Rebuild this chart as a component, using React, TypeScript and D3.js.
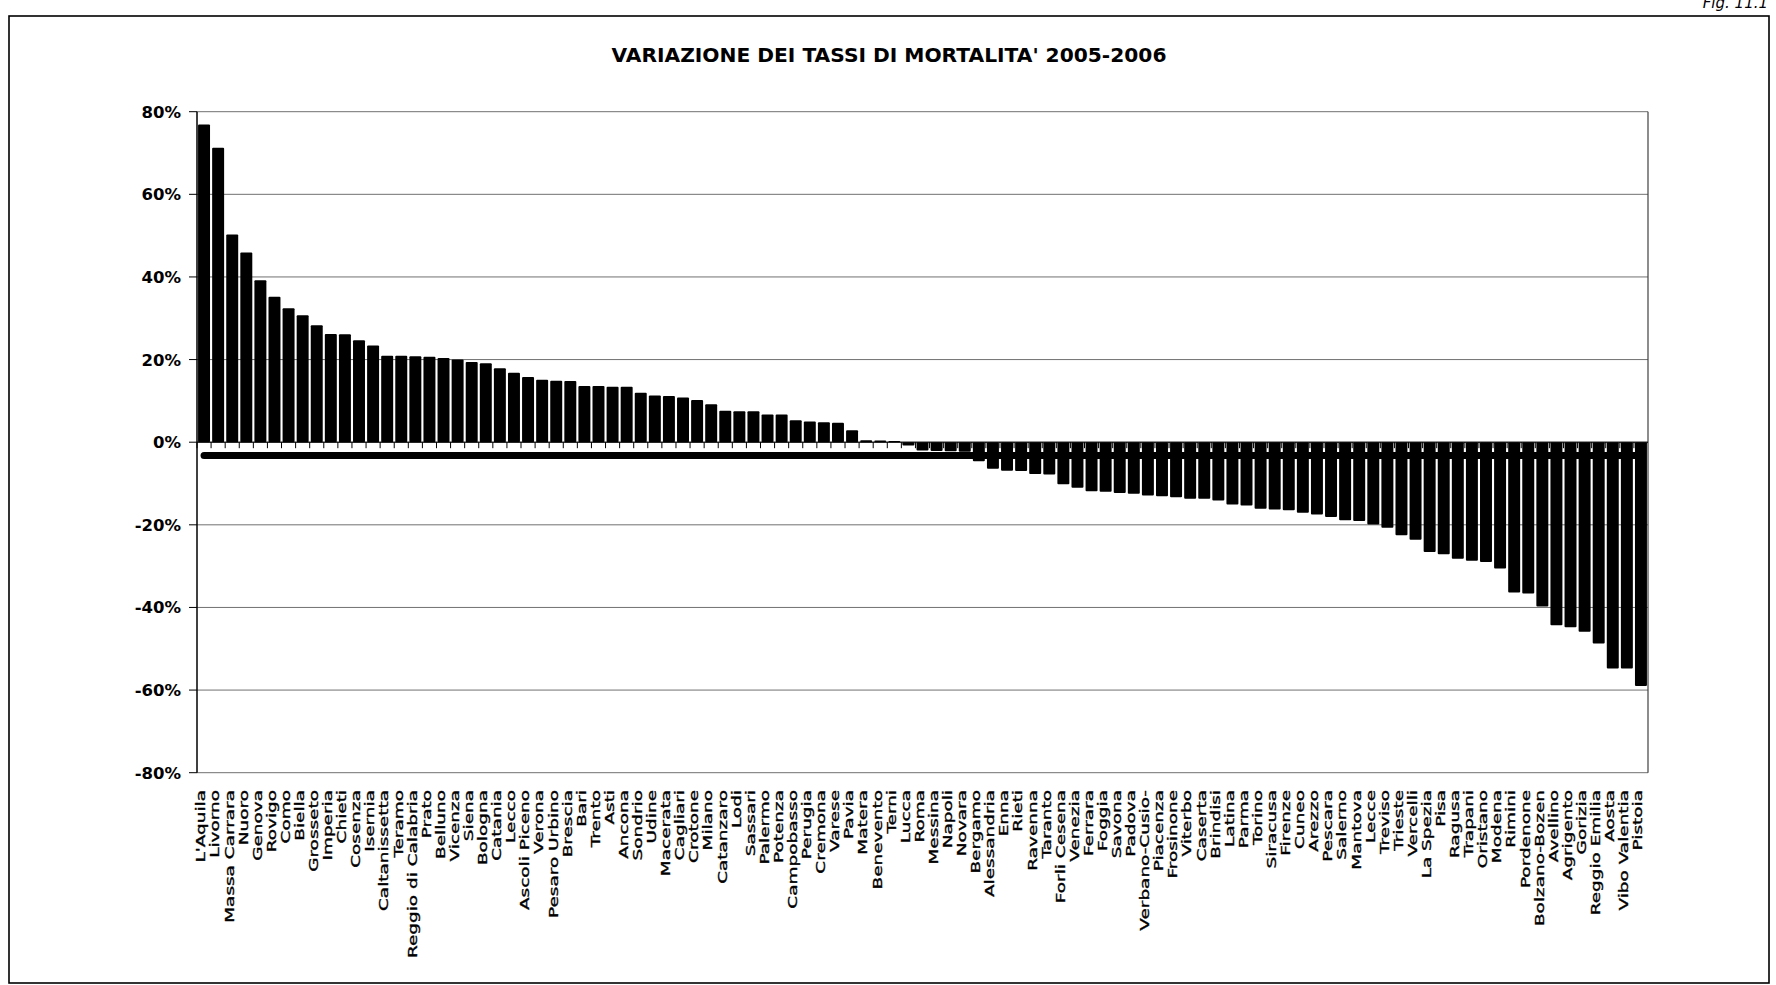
import React, { useEffect } from "react";
import * as d3 from "d3";

const categories = [
  "L'Aquila", "Livorno", "Massa Carrara", "Nuoro", "Genova", "Rovigo", "Como", "Biella", "Grosseto", "Imperia",
  "Chieti", "Cosenza", "Isernia", "Caltanissetta", "Teramo", "Reggio di Calabria", "Prato", "Belluno", "Vicenza", "Siena",
  "Bologna", "Catania", "Lecco", "Ascoli Piceno", "Verona", "Pesaro Urbino", "Brescia", "Bari", "Trento", "Asti",
  "Ancona", "Sondrio", "Udine", "Macerata", "Cagliari", "Crotone", "Milano", "Catanzaro", "Lodi", "Sassari",
  "Palermo", "Potenza", "Campobasso", "Perugia", "Cremona", "Varese", "Pavia", "Matera", "Benevento", "Terni",
  "Lucca", "Roma", "Messina", "Napoli", "Novara", "Bergamo", "Alessandria", "Enna", "Rieti", "Ravenna",
  "Taranto", "Forli Cesena", "Venezia", "Ferrara", "Foggia", "Savona", "Padova", "Verbano-Cusio-", "Piacenza", "Frosinone",
  "Viterbo", "Caserta", "Brindisi", "Latina", "Parma", "Torino", "Siracusa", "Firenze", "Cuneo", "Arezzo",
  "Pescara", "Salerno", "Mantova", "Lecce", "Treviso", "Trieste", "Vercelli", "La Spezia", "Pisa", "Ragusa",
  "Trapani", "Oristano", "Modena", "Rimini", "Pordenone", "Bolzano-Bozen", "Avellino", "Agrigento", "Gorizia", "Reggio Emilia",
  "Aosta", "Vibo Valentia", "Pistoia",
];

const values = [
  76.9, 71.3, 50.3, 45.9, 39.2, 35.2, 32.4, 30.7, 28.3, 26.2,
  26.1, 24.7, 23.4, 20.9, 20.9, 20.8, 20.7, 20.4, 20.0, 19.4,
  19.1, 17.9, 16.8, 15.8, 15.1, 14.9, 14.8, 13.6, 13.6, 13.4,
  13.4, 12.0, 11.3, 11.2, 10.8, 10.2, 9.2, 7.6, 7.5, 7.5,
  6.7, 6.7, 5.3, 5.0, 4.8, 4.7, 2.9, 0.5, 0.4, 0.3,
  -0.8, -2.0, -2.1, -2.2, -2.3, -4.6, -6.4, -6.9, -7.0, -7.7,
  -7.8, -10.2, -11.0, -11.9, -12.0, -12.3, -12.5, -12.9, -13.1, -13.3,
  -13.7, -13.7, -14.1, -15.1, -15.3, -16.1, -16.3, -16.5, -17.1, -17.5,
  -18.1, -18.9, -19.1, -19.9, -20.7, -22.5, -23.6, -26.6, -27.1, -28.2,
  -28.7, -29.0, -30.6, -36.4, -36.6, -39.8, -44.3, -44.8, -45.9, -48.7,
  -54.8, -54.8, -59.0,
];

const referenceLine = -3.2;
const yTicks = [80, 60, 40, 20, 0, -20, -40, -60, -80];
const title = "VARIAZIONE DEI TASSI DI MORTALITA' 2005-2006";
const figLabel = "Fig. 11.1";

export default function App() {
  useEffect(() => {
    document.body.style.margin = "0";
  }, []);

  const W = 1776;
  const H = 985;
  const left = 197;
  const right = 1648;
  const top = 111.7;
  const bottom = 772.7;

  const x = d3.scaleBand<string>().domain(categories).range([left, right]).paddingInner(0.15).paddingOuter(0.075);
  const y = d3.scaleLinear().domain([-80, 80]).range([bottom, top]);
  const step = x.step();
  const bw = x.bandwidth();

  const x0 = (x(categories[0]) as number) + bw / 2;
  const x1 = (x(categories[categories.length - 1]) as number) + bw / 2;

  const labelFont = "'DejaVu Sans', sans-serif";

  return (
    <svg width={W} height={H} style={{ position: "absolute", left: 0, top: 0, background: "#fff" }}>
      <rect x={0} y={0} width={W} height={H} fill="#fff" />
      <text x={1768} y={8} textAnchor="end" fontFamily={labelFont} fontStyle="italic" fontSize={15} fill="#000">{figLabel}</text>
      <rect x={9} y={16} width={1760} height={967} fill="none" stroke="#000" strokeWidth={1.6} />
      <text x={889} y={62} textAnchor="middle" fontFamily={labelFont} fontWeight="bold" fontSize={20}
        textLength={555} lengthAdjust="spacingAndGlyphs" fill="#000">{title}</text>

      {/* gridlines */}
      {yTicks.map((t) => (
        <line key={"g" + t} x1={left} x2={right} y1={y(t)} y2={y(t)} stroke="#707070" strokeWidth={1} />
      ))}
      {/* right border */}
      <line x1={right} x2={right} y1={top} y2={bottom} stroke="#404040" strokeWidth={1.2} />

      {/* bars */}
      {values.map((v, i) => (
        <rect key={"b" + i} x={x(categories[i]) as number} width={bw}
          y={y(Math.max(0, v))} height={Math.abs(y(v) - y(0))} fill="#000" rx={1} />
      ))}

      {/* reference thick line */}
      <line x1={x0} x2={x1} y1={y(referenceLine)} y2={y(referenceLine)} stroke="#000" strokeWidth={7} strokeLinecap="round" />

      {/* y axis */}
      <line x1={left} x2={left} y1={top} y2={bottom} stroke="#000" strokeWidth={1.5} />
      {yTicks.map((t) => (
        <g key={"yt" + t}>
          <line x1={left - 8} x2={left} y1={y(t)} y2={y(t)} stroke="#000" strokeWidth={1} />
          <text x={181} y={y(t)} dy="0.36em" textAnchor="end" fontFamily={labelFont} fontWeight="bold" fontSize={16.5} fill="#000">
            {t + "%"}
          </text>
        </g>
      ))}

      {/* x axis at 0 */}
      <line x1={left} x2={right} y1={y(0)} y2={y(0)} stroke="#000" strokeWidth={1} />
      {categories.map((c, i) => (
        <line key={"xt" + i} x1={left + i * step} x2={left + i * step} y1={y(0)} y2={y(0) + 6} stroke="#000" strokeWidth={1} />
      ))}

      {/* category labels */}
      {categories.map((c) => {
        const cx = (x(c) as number) + bw / 2;
        return (
          <text key={"l" + c} transform={`translate(${cx},790) rotate(-90) scale(1.42,1)`} dy="0.1em" textAnchor="end"
            fontFamily={labelFont} fontSize={13} fill="#000" stroke="#000" strokeWidth={0.35}>
            {c}
          </text>
        );
      })}
    </svg>
  );
}
